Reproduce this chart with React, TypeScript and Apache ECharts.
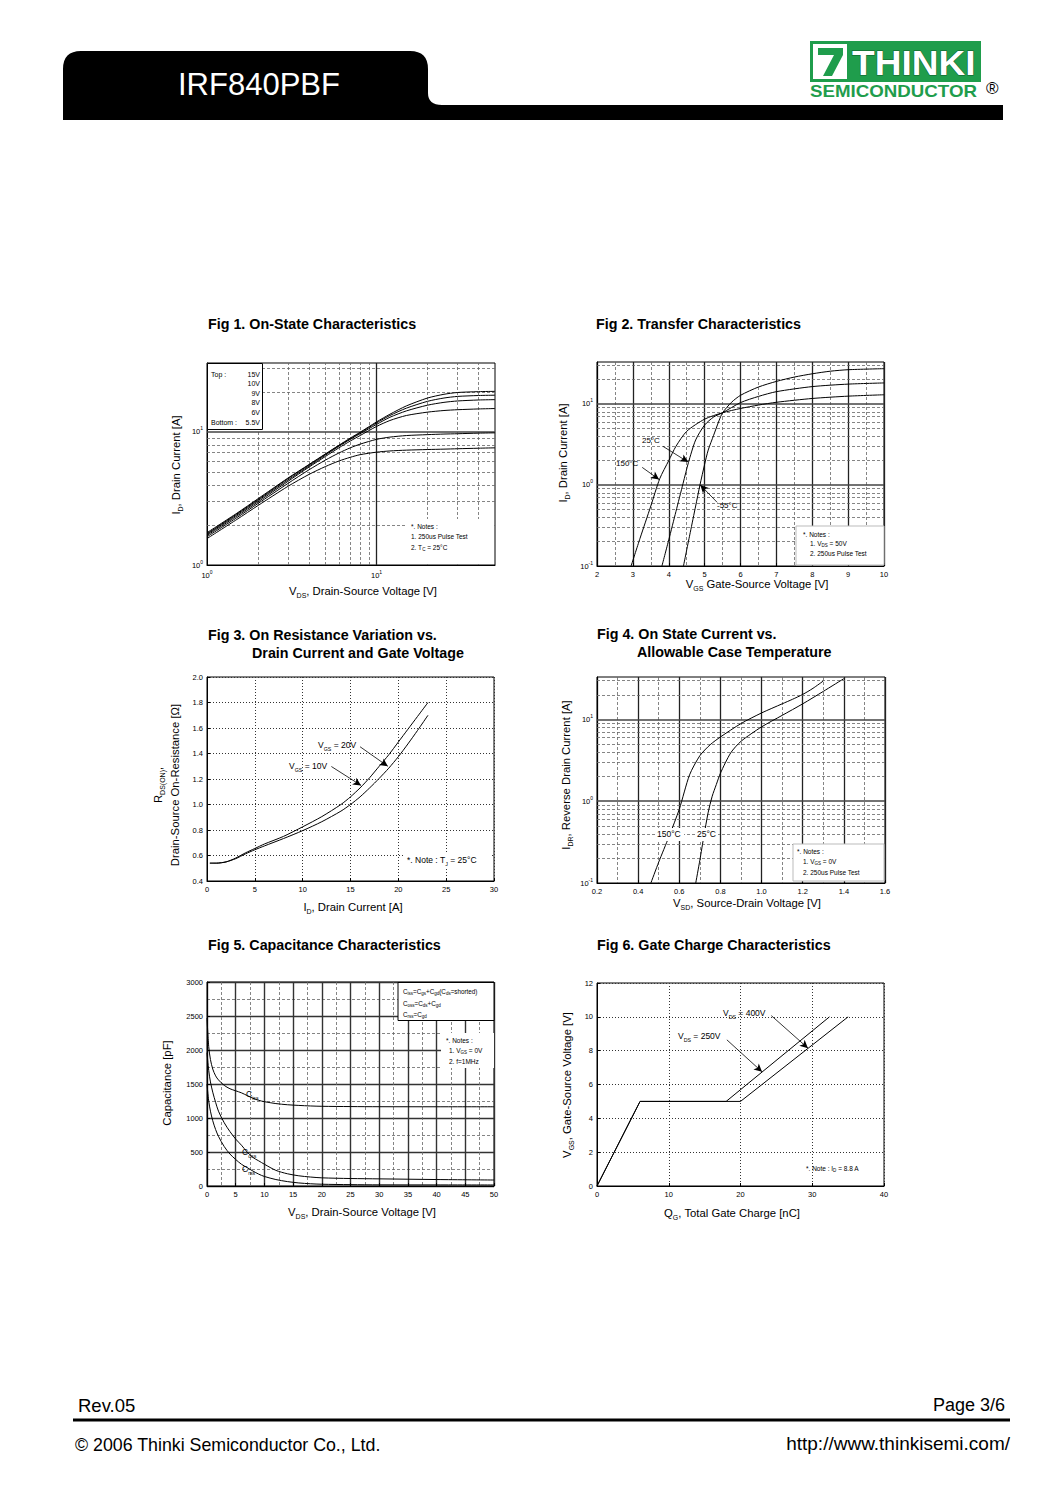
import React, { useEffect, useRef } from "react";
import * as echarts from "echarts";

const FONT = "'Liberation Sans', Arial, Helvetica, sans-serif";

// ---------- Fig 1: On-State Characteristics ----------
const fig1Vds = [1, 1.5, 2, 3, 4, 5, 6, 7, 8, 10, 12, 15, 20, 25, 30, 40, 50];
const fig1Id15V = [1.75, 2.45, 3.15, 4.5, 5.7, 6.85, 7.95, 9.0, 9.95, 11.9, 13.6, 15.7, 18.0, 19.2, 19.8, 20.1, 20.2];
const fig1Id10V = [1.72, 2.42, 3.1, 4.45, 5.65, 6.8, 7.9, 8.9, 9.85, 11.7, 13.3, 15.1, 17.0, 18.0, 18.5, 18.8, 18.9];
const fig1Id9V = [1.7, 2.38, 3.05, 4.35, 5.55, 6.7, 7.8, 8.8, 9.7, 11.4, 12.9, 14.4, 15.9, 16.7, 17.1, 17.4, 17.5];
const fig1Id8V = [1.67, 2.33, 2.98, 4.25, 5.45, 6.55, 7.6, 8.55, 9.4, 11.0, 12.2, 13.3, 14.1, 14.5, 14.7, 14.9, 15.0];
const fig1Id6V = [1.63, 2.27, 2.9, 4.1, 5.2, 6.15, 6.95, 7.6, 8.1, 8.8, 9.15, 9.4, 9.55, 9.65, 9.7, 9.8, 9.85];
const fig1Id55V = [1.58, 2.2, 2.8, 3.9, 4.8, 5.5, 6.05, 6.45, 6.75, 7.05, 7.2, 7.3, 7.38, 7.43, 7.48, 7.55, 7.6];
const fig1Legend = ["15V", "10V", "9V", "8V", "6V", "5.5V"];

// ---------- Fig 2: Transfer Characteristics ----------
const fig2T150 = [[2.95, 0.1], [3.2, 0.22], [3.5, 0.55], [3.75, 1.2], [4.0, 2.0], [4.2, 3.0], [4.5, 4.6], [5.0, 6.5], [5.5, 7.8], [6.0, 8.8], [6.5, 9.7], [7.0, 10.5], [8.0, 11.7], [9.0, 12.5], [10, 13.0]];
const fig2T25 = [[3.81, 0.1], [4.0, 0.21], [4.2, 0.47], [4.4, 1.05], [4.55, 1.9], [4.75, 3.6], [5.0, 5.5], [5.25, 6.9], [5.5, 7.8], [6.0, 10.4], [6.5, 12.4], [7.0, 14.2], [8.0, 16.4], [9.0, 17.6], [10, 18.2]];
const fig2Tm55 = [[4.41, 0.1], [4.6, 0.26], [4.75, 0.55], [4.87, 1.0], [5.0, 1.8], [5.1, 2.7], [5.25, 4.1], [5.4, 6.2], [5.5, 7.8], [5.75, 10.5], [6.0, 12.8], [6.5, 16.2], [7.0, 19.0], [7.5, 21.5], [8.0, 23.6], [8.5, 25.4], [9.0, 26.5], [10, 27.3]];

// ---------- Fig 3: On Resistance ----------
const fig3Id = [0.3, 1, 2, 3, 4, 5, 6, 8, 10, 12, 14, 15, 16, 17, 18, 19, 20, 21, 22, 23.1];
const fig3R10V = [0.54, 0.54, 0.55, 0.58, 0.62, 0.655, 0.69, 0.75, 0.825, 0.905, 1.0, 1.06, 1.13, 1.21, 1.3, 1.39, 1.49, 1.59, 1.69, 1.8];
const fig3R20V = [0.54, 0.54, 0.55, 0.575, 0.612, 0.645, 0.675, 0.733, 0.795, 0.865, 0.948, 1.0, 1.06, 1.13, 1.205, 1.285, 1.375, 1.475, 1.58, 1.7];

// ---------- Fig 4: Body diode ----------
const fig4T150 = [[0.462, 0.1], [0.5, 0.18], [0.55, 0.37], [0.6, 0.8], [0.65, 2.1], [0.7, 3.6], [0.75, 4.9], [0.8, 6.1], [0.9, 8.9], [1.0, 12.0], [1.1, 15.5], [1.15, 17.6], [1.2, 20.2], [1.25, 24.0], [1.3, 29.5]];
const fig4T25 = [[0.68, 0.1], [0.7, 0.19], [0.72, 0.38], [0.74, 0.72], [0.76, 1.15], [0.78, 1.6], [0.8, 2.2], [0.85, 3.9], [0.9, 5.4], [1.0, 8.1], [1.1, 11.2], [1.2, 15.5], [1.3, 22], [1.4, 31.5]];

// ---------- Fig 5: Capacitance ----------
const fig5Vds = [0, 0.3, 0.6, 1, 1.5, 2, 3, 4, 5, 6, 7, 8, 9, 10, 12, 14, 16, 18, 20, 25, 30, 40, 50];
const fig5Ciss = [2470, 2050, 1860, 1720, 1620, 1560, 1480, 1430, 1400, 1370, 1330, 1290, 1260, 1240, 1212, 1195, 1185, 1177, 1172, 1168, 1166, 1165, 1165];
const fig5Coss = [1960, 1700, 1530, 1380, 1230, 1100, 930, 800, 690, 600, 500, 420, 370, 320, 230, 180, 150, 132, 120, 110, 105, 95, 88];
const fig5Crss = [1500, 1250, 1100, 960, 830, 730, 580, 470, 390, 320, 270, 220, 175, 140, 95, 65, 45, 33, 26, 20, 17, 16, 15];

// ---------- Fig 6: Gate charge ----------
const fig6V250 = [[0, 0], [6, 5], [18, 5], [32.4, 10]];
const fig6V400 = [[0, 0], [6, 5], [20, 5], [35, 10]];

// gridline values for log axes
const logMinor1to33 = [2, 3, 4, 5, 6, 7, 8, 9, 20, 30];
const logMinor01to33 = [0.2, 0.3, 0.4, 0.5, 0.6, 0.7, 0.8, 0.9, 2, 3, 4, 5, 6, 7, 8, 9, 20, 30];
const fig1MinorX = [2, 3, 4, 5, 6, 7, 8, 9, 20, 30, 40];

const TAB_PATH = "M63,120 L63,69 Q63,51 81,51 L410,51 Q428,51 428,69 L428,93 Q428,105 442,105 L1003,105 L1003,120 Z";

const zip = (xs: number[], ys: number[]) => xs.map((x, i) => [x, ys[i]]);

const rt = (size: number) => {
  const sm = Math.max(4.5, size * 0.62);
  return {
    n: { fontSize: size, fontFamily: FONT, fill: "#000", lineHeight: size + 4 },
    b: { fontSize: size, fontFamily: FONT, fill: "#000", fontWeight: "bold", lineHeight: size + 4 },
    s: { fontSize: sm, fontFamily: FONT, fill: "#000", lineHeight: sm, verticalAlign: "bottom" },
    u: { fontSize: sm, fontFamily: FONT, fill: "#000", lineHeight: sm, verticalAlign: "top" },
  };
};

const txt = (x: number, y: number, text: string, o: any = {}) => ({
  type: "text",
  x,
  y,
  z: 60,
  silent: true,
  rotation: o.rot || 0,
  scaleX: o.sx || 1,
  style: {
    text,
    fill: o.fill || "#000",
    fontSize: o.size || 8,
    fontFamily: o.family || FONT,
    fontWeight: o.weight || "normal",
    textAlign: o.align || "left",
    align: o.align || "left",
    textVerticalAlign: "middle",
    verticalAlign: "middle",
    stroke: o.stroke || undefined,
    lineWidth: o.stroke ? 1 : 0,
    rich: rt(o.size || 8),
  },
});

const box = (x: number, y: number, w: number, h: number, stroke: string | null) => ({
  type: "rect",
  z: 55,
  silent: true,
  shape: { x, y, width: w, height: h },
  style: { fill: "#fff", stroke: stroke || "none", lineWidth: stroke ? 1 : 0 },
});

const LABEL_RICH = {
  b: { fontSize: 7.5, fontFamily: FONT, color: "#000", lineHeight: 12 },
  p: { fontSize: 5, fontFamily: FONT, color: "#000", lineHeight: 6, verticalAlign: "top" },
};

const logFmt = (v: number) => {
  const l = Math.log10(v);
  const r = Math.round(l);
  if (Math.abs(l - r) > 1e-6) return "";
  return "{b|10}{p|" + r + "}";
};

const logAxis = (gi: number, min: number, max: number) => ({
  type: "log",
  logBase: 10,
  gridIndex: gi,
  min,
  max,
  axisLine: { show: true, lineStyle: { color: "#000", width: 1 } },
  axisTick: { show: false },
  splitLine: { show: false },
  minorSplitLine: { show: false },
  axisLabel: { formatter: logFmt, rich: LABEL_RICH, margin: 4, fontSize: 7, color: "#000" },
});

const valAxis = (gi: number, min: number, max: number, interval: number, digits: number, split: any, minor: any) => ({
  type: "value",
  gridIndex: gi,
  min,
  max,
  interval,
  axisLine: { show: true, lineStyle: { color: "#000", width: 1 } },
  axisTick: { show: true, inside: true, length: 3, lineStyle: { color: "#000" } },
  axisLabel: {
    fontSize: 7.5,
    fontFamily: FONT,
    color: "#000",
    margin: 4,
    formatter: (v: number) => v.toFixed(digits),
  },
  splitLine: { show: true, lineStyle: split },
  minorTick: { show: false, splitNumber: 2 },
  minorSplitLine: minor ? { show: true, lineStyle: minor } : { show: false },
});

const MINOR_DASH = { color: "#666", width: 0.8, type: [3, 2] };
const MAJOR_SOLID = { color: "#222", width: 1.3, type: "solid" };
const DOTTED = { color: "#333", width: 1, type: [1, 2] };

const gridSeries = (gi: number, xs: number[], ys: number[], majX: number[], majY: number[], anchor: number[]) => ({
  type: "line",
  xAxisIndex: gi,
  yAxisIndex: gi,
  data: [anchor],
  symbol: "none",
  lineStyle: { opacity: 0 },
  silent: true,
  z: 1,
  markLine: {
    silent: true,
    symbol: ["none", "none"],
    label: { show: false },
    emphasis: { disabled: true },
    animation: false,
    data: [
      ...xs.map((v) => ({ xAxis: v, lineStyle: MINOR_DASH })),
      ...ys.map((v) => ({ yAxis: v, lineStyle: MINOR_DASH })),
      ...majX.map((v) => ({ xAxis: v, lineStyle: MAJOR_SOLID })),
      ...majY.map((v) => ({ yAxis: v, lineStyle: { color: "#444", width: 1.6, type: "solid" } })),
    ],
  },
});

const arrowSeries = (gi: number, arrows: number[][][], anchor: number[]) => ({
  type: "line",
  xAxisIndex: gi,
  yAxisIndex: gi,
  data: [anchor],
  symbol: "none",
  lineStyle: { opacity: 0 },
  silent: true,
  z: 8,
  markLine: {
    silent: true,
    symbol: ["none", "arrow"],
    symbolSize: [6, 8],
    label: { show: false },
    emphasis: { disabled: true },
    animation: false,
    lineStyle: { color: "#000", width: 0.8, type: "solid" },
    data: arrows.map((a) => [{ coord: a[0] }, { coord: a[1] }]),
  },
});

const curve = (gi: number, data: number[][], smooth: number | boolean = 0.25) => ({
  type: "line",
  xAxisIndex: gi,
  yAxisIndex: gi,
  data,
  symbol: "none",
  showSymbol: false,
  smooth,
  silent: true,
  z: 5,
  lineStyle: { color: "#000", width: 1 },
});

// annotation arrows (data coordinates)
const fig2Arrows = [
  [[3.84, 3.0], [4.54, 1.92]],
  [[3.26, 1.65], [3.73, 1.17]],
  [[5.35, 0.61], [4.88, 1.0]],
];
const fig3Arrows = [
  [[16.0, 1.453], [18.9, 1.3]],
  [[13.0, 1.298], [16.1, 1.15]],
];
const fig6Arrows = [
  [[24.3, 10.07], [29.4, 8.15]],
  [[18.1, 8.64], [23.0, 6.75]],
];

function buildOption() {
  const grids = [
    { left: 207, top: 363, width: 288, height: 202 },
    { left: 597, top: 362, width: 287, height: 204 },
    { left: 207, top: 677, width: 287, height: 204 },
    { left: 597, top: 677, width: 288, height: 206 },
    { left: 207, top: 982, width: 287, height: 204 },
    { left: 597, top: 983, width: 287, height: 203 },
  ].map((g) => ({ ...g, show: true, borderColor: "#000", borderWidth: 1, backgroundColor: "transparent" }));

  const xAxis = [
    logAxis(0, 1, 50),
    valAxis(1, 2, 10, 1, 0, MAJOR_SOLID, MINOR_DASH),
    valAxis(2, 0, 30, 5, 0, DOTTED, null),
    valAxis(3, 0.2, 1.6, 0.2, 1, MAJOR_SOLID, MINOR_DASH),
    valAxis(4, 0, 50, 5, 0, { color: "#333", width: 1.4, type: "solid" }, MINOR_DASH),
    valAxis(5, 0, 40, 10, 0, DOTTED, null),
  ];
  const yAxis = [
    logAxis(0, 1, 33),
    logAxis(1, 0.1, 33),
    valAxis(2, 0.4, 2.0, 0.2, 1, DOTTED, null),
    logAxis(3, 0.1, 33),
    valAxis(4, 0, 3000, 500, 0, { color: "#333", width: 1.4, type: "solid" }, MINOR_DASH),
    valAxis(5, 0, 12, 2, 0, DOTTED, null),
  ];

  const series: any[] = [
    gridSeries(0, fig1MinorX, logMinor1to33, [10], [10], [1, 1]),
    gridSeries(1, [], logMinor01to33, [], [1, 10], [2, 0.1]),
    gridSeries(3, [], logMinor01to33, [], [1, 10], [0.2, 0.1]),
    curve(0, zip(fig1Vds, fig1Id15V)),
    curve(0, zip(fig1Vds, fig1Id10V)),
    curve(0, zip(fig1Vds, fig1Id9V)),
    curve(0, zip(fig1Vds, fig1Id8V)),
    curve(0, zip(fig1Vds, fig1Id6V)),
    curve(0, zip(fig1Vds, fig1Id55V)),
    curve(1, fig2T150),
    curve(1, fig2T25),
    curve(1, fig2Tm55),
    arrowSeries(1, fig2Arrows, [2, 0.1]),
    curve(2, zip(fig3Id, fig3R10V)),
    curve(2, zip(fig3Id, fig3R20V)),
    arrowSeries(2, fig3Arrows, [0, 0.4]),
    curve(3, fig4T150),
    curve(3, fig4T25),
    curve(4, zip(fig5Vds, fig5Ciss), 0.3),
    curve(4, zip(fig5Vds, fig5Coss), 0.3),
    curve(4, zip(fig5Vds, fig5Crss), 0.3),
    curve(5, fig6V250, false),
    curve(5, fig6V400, false),
    arrowSeries(5, fig6Arrows, [0, 0]),
  ];

  const G = "#1f9d4c";
  const TITLE = { size: 14.3, weight: "bold" };
  const AX = 11.3;
  const graphic: any[] = [
    // header
    { type: "hdrTab", x: 0, y: 0, z: 10, silent: true, style: { fill: "#000" } },
    txt(178, 84, "IRF840PBF", { size: 31, fill: "#fff" }),
    { type: "rect", z: 10, silent: true, shape: { x: 810, y: 41, width: 171, height: 41 }, style: { fill: G } },
    { type: "rect", z: 11, silent: true, shape: { x: 813, y: 44, width: 34, height: 35 }, style: { fill: "#fff" } },
    {
      type: "polygon",
      z: 12,
      silent: true,
      shape: { points: [[818, 48], [843, 48], [843, 55], [832, 76], [823, 76], [834, 55], [818, 55]] },
      style: { fill: G },
    },
    { ...txt(852, 63, "THINKI", { size: 35, fill: "#fff", weight: "bold", sx: 1.06, stroke: "#0d5e2a" }), z: 12 },
    txt(810, 91, "SEMICONDUCTOR", { size: 16, fill: G, weight: "bold", sx: 1.17 }),
    txt(986, 88, "®", { size: 17 }),

    // titles
    txt(208, 324, "Fig 1. On-State Characteristics", TITLE),
    txt(596, 324, "Fig 2. Transfer Characteristics", TITLE),
    txt(208, 635, "Fig 3. On Resistance Variation vs.", TITLE),
    txt(252, 653, "Drain Current and Gate Voltage", TITLE),
    txt(597, 634, "Fig 4. On State Current vs.", TITLE),
    txt(637, 652, "Allowable Case Temperature", TITLE),
    txt(208, 945, "Fig 5. Capacitance Characteristics", TITLE),
    txt(597, 945, "Fig 6. Gate Charge Characteristics", TITLE),

    // axis names
    txt(363, 591, "{n|V}{s|DS}{n|, Drain-Source Voltage [V]}", { size: AX, align: "center" }),
    txt(176, 465, "{n|I}{s|D}{n|, Drain Current [A]}", { size: AX, align: "center", rot: Math.PI / 2 }),
    txt(757, 584, "{n|V}{s|GS}{n| Gate-Source Voltage [V]}", { size: AX, align: "center" }),
    txt(563, 453, "{n|I}{s|D}{n|, Drain Current [A]}", { size: AX, align: "center", rot: Math.PI / 2 }),
    txt(353, 907, "{n|I}{s|D}{n|, Drain Current [A]}", { size: AX, align: "center" }),
    txt(158, 785, "{n|R}{s|DS(ON)}{n|,}", { size: AX, align: "center", rot: Math.PI / 2 }),
    txt(175, 785, "Drain-Source On-Resistance [Ω]", { size: AX, align: "center", rot: Math.PI / 2 }),
    txt(747, 903, "{n|V}{s|SD}{n|, Source-Drain Voltage [V]}", { size: AX, align: "center" }),
    txt(566, 775, "{n|I}{s|DR}{n|, Reverse Drain Current [A]}", { size: AX, align: "center", rot: Math.PI / 2 }),
    txt(362, 1212, "{n|V}{s|DS}{n|, Drain-Source Voltage [V]}", { size: AX, align: "center" }),
    txt(167, 1083, "Capacitance [pF]", { size: AX, align: "center", rot: Math.PI / 2 }),
    txt(732, 1213, "{n|Q}{s|G}{n|, Total Gate Charge [nC]}", { size: AX, align: "center" }),
    txt(567, 1085, "{n|V}{s|GS}{n|, Gate-Source Voltage [V]}", { size: AX, align: "center", rot: Math.PI / 2 }),

    // fig1 legend & notes
    box(207.5, 363.5, 55, 66, "#000"),
    txt(211, 374, "Top :", { size: 7 }),
    ...fig1Legend.map((l, i) => txt(260, 374 + i * 9.6, l, { size: 7, align: "right" })),
    txt(211, 422, "Bottom :", { size: 7 }),
    box(406, 519, 88, 45, null),
    txt(411, 526, "*. Notes :", { size: 6.5 }),
    txt(411, 536, "1. 250us Pulse Test", { size: 6.5 }),
    txt(411, 547, "{n|2. T}{s|C}{n| = 25°C}", { size: 6.5 }),

    // fig2
    txt(642, 440, "25°C", { size: 8 }),
    txt(616, 463, "150°C", { size: 8 }),
    txt(717, 505, "-55°C", { size: 8 }),
    box(796, 526, 88, 39, "#bbb"),
    txt(803, 534, "*. Notes :", { size: 6.5 }),
    txt(810, 543, "{n|1. V}{s|DS}{n| = 50V}", { size: 6.5 }),
    txt(810, 553, "2. 250us Pulse Test", { size: 6.5 }),

    // fig3
    txt(318, 745, "{n|V}{s|GS}{n| = 20V}", { size: 8.5 }),
    txt(289, 766, "{n|V}{s|GS}{n| = 10V}", { size: 8.5 }),
    box(403, 853, 88, 15, null),
    txt(407, 860, "{n|*. Note : T}{s|J}{n| = 25°C}", { size: 8.5 }),

    // fig4
    box(656, 828, 28, 13, null),
    box(696, 828, 22, 13, null),
    txt(657, 834, "150°C", { size: 8.5 }),
    txt(697, 834, "25°C", { size: 8.5 }),
    box(793, 844, 91, 37, "#bbb"),
    txt(797, 851, "*. Notes :", { size: 6.5 }),
    txt(803, 861, "{n|1. V}{s|GS}{n| = 0V}", { size: 6.5 }),
    txt(803, 872, "2. 250us Pulse Test", { size: 6.5 }),

    // fig5
    box(398, 982.5, 96, 38, "#000"),
    txt(403, 991, "{n|C}{s|iss}{n|=C}{s|gs}{n|+C}{s|gd}{n|(C}{s|ds}{n|=shorted)}", { size: 6.3 }),
    txt(403, 1003, "{n|C}{s|oss}{n|=C}{s|ds}{n|+C}{s|gd}", { size: 6.3 }),
    txt(403, 1014, "{n|C}{s|rss}{n|=C}{s|gd}", { size: 6.3 }),
    box(441, 1033, 53, 35, null),
    txt(446, 1040, "*. Notes :", { size: 6.5 }),
    txt(449, 1050, "{n|1. V}{s|GS}{n| = 0V}", { size: 6.5 }),
    txt(449, 1061, "2. f=1MHz", { size: 6.5 }),
    txt(246, 1094, "{n|C}{s|iss}", { size: 8.5 }),
    txt(242, 1152, "{n|C}{s|oss}", { size: 8.5 }),
    txt(242, 1169, "{n|C}{s|rss}", { size: 8.5 }),

    // fig6
    txt(723, 1013, "{n|V}{s|DS}{n| = 400V}", { size: 8.5 }),
    txt(678, 1036, "{n|V}{s|DS}{n| = 250V}", { size: 8.5 }),
    txt(806, 1168, "{n|*. Note : I}{s|D}{n| = 8.8 A}", { size: 6.5 }),

    // footer
    txt(78, 1405, "Rev.05", { size: 18.5 }),
    txt(1005, 1405, "Page 3/6", { size: 18, align: "right" }),
    { type: "rect", z: 10, silent: true, shape: { x: 73, y: 1418.5, width: 937, height: 3 }, style: { fill: "#000" } },
    txt(75, 1445, "© 2006 Thinki Semiconductor Co., Ltd.", { size: 17.8 }),
    txt(1010, 1443, "http://www.thinkisemi.com/", { size: 19, align: "right" }),
  ];

  return {
    animation: false,
    backgroundColor: "#fff",
    textStyle: { fontFamily: FONT },
    grid: grids,
    xAxis,
    yAxis,
    series,
    graphic: { elements: graphic },
  };
}

export default function App() {
  const ref = useRef<HTMLDivElement>(null);
  useEffect(() => {
    document.body.style.margin = "0";
    if (!ref.current) return;
    try {
      echarts.graphic.registerShape("hdrTab", echarts.graphic.extendPath(TAB_PATH, {}));
    } catch (e) {
      // ignore
    }
    const chart = echarts.init(ref.current, null, { renderer: "svg", width: 1060, height: 1500 });
    chart.setOption(buildOption() as any);
    return () => chart.dispose();
  }, []);
  return <div ref={ref} style={{ width: 1060, height: 1500, background: "#fff" }} />;
}
